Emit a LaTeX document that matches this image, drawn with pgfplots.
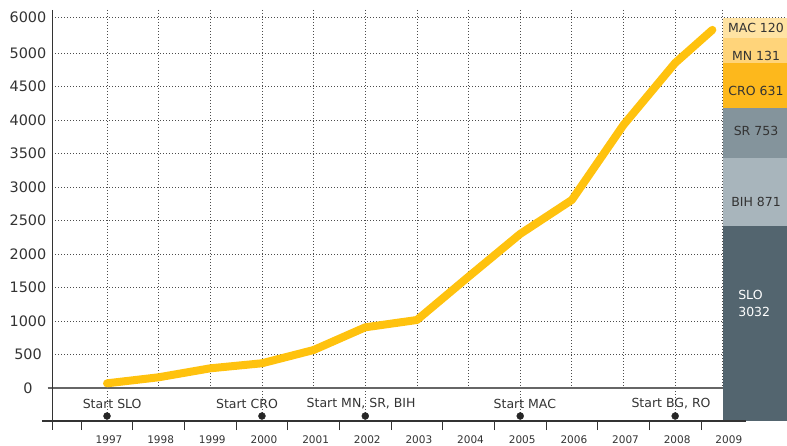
\documentclass[border=0pt]{standalone}
\usepackage{pgfplots}
\pgfplotsset{compat=1.18}
\usepackage{fontspec}
\setmainfont{DejaVu Sans}
\definecolor{gold}{HTML}{FFC20E}
\definecolor{cSLO}{HTML}{53656F}
\definecolor{cBIH}{HTML}{A8B5BC}
\definecolor{cSR}{HTML}{84949C}
\definecolor{cCRO}{HTML}{FDB81C}
\definecolor{cMN}{HTML}{FFD47A}
\definecolor{cMAC}{HTML}{FFE3A3}
\definecolor{txt}{HTML}{333333}
\tikzset{griddot/.style={draw=black!70, line width=0.8pt, dash pattern=on 0.9pt off 2.1pt}}
% x = year - 1997
\begin{document}
\begin{tikzpicture}
\begin{axis}[
  at={(0,0)}, anchor=south west,
  scale only axis, width=735pt, height=411pt,
  xmin=-1.065, xmax=13.165, ymin=-492.5, ymax=5642,
  clip=false,
  axis x line=bottom, axis y line=left,
  axis line style={draw=none},
  xtick={0,1,2,3,4,5,6,7,8,9,10,11,12},
  xticklabels={1997,1998,1999,2000,2001,2002,2003,2004,2005,2006,2007,2008,2009},
  minor xtick={-0.5,0.5,1.5,2.5,3.5,4.5,5.5,6.5,7.5,8.5,9.5,10.5,11.5},
  ytick={0,500,1000,1500,2000,2500,3000,3500,4000,4500,5000,5530},
  yticklabels={0,500,1000,1500,2000,2500,3000,3500,4000,4500,5000,6000},
  major tick length=0pt, minor tick length=9pt, tick align=outside,
  minor tick style={draw=black!80, line width=1pt},
  ymajorgrids, grid style={griddot},
  xticklabel style={font=\fontsize{10.5}{12}\selectfont, text=txt, anchor=base, yshift=-22pt, xshift=2pt},
  yticklabel style={font=\fontsize{14.4}{16}\selectfont, text=txt, anchor=center, xshift=-24pt},
]
% vertical grid lines
\pgfplotsinvokeforeach{1,2,4,6,7,9,10}{
  \draw[griddot] (axis cs:#1,5642) -- (axis cs:#1,0);
}
\draw[griddot] (axis cs:11.92,5642) -- (axis cs:11.92,0);
\pgfplotsinvokeforeach{0,3,5,8,11}{
  \draw[griddot] (axis cs:#1,5642) -- (axis cs:#1,-418);
}
% zero line
\draw[black!60, line width=1.5pt] (axis cs:-1.15,0) -- (axis cs:11.93,0);

% growth line
\addplot[gold, line width=8pt, line cap=round, line join=round] coordinates {
  (0,70) (1,160) (2,294) (3,369) (4,567) (5,906)
  (6,1015) (7,1662) (8,2300) (9,2807) (10,3927)
  (11,4852) (11.72,5345)
};

% stacked column (segments as drawn)
\addplot[draw=none, fill=cSLO] coordinates {(11.93,-492.5) (13.3,-492.5) (13.3,2418) (11.93,2418)};
\addplot[draw=none, fill=cBIH] coordinates {(11.93,2418) (13.3,2418) (13.3,3428) (11.93,3428)};
\addplot[draw=none, fill=cSR] coordinates {(11.93,3428) (13.3,3428) (13.3,4174) (11.93,4174)};
\addplot[draw=none, fill=cCRO] coordinates {(11.93,4174) (13.3,4174) (13.3,4845) (11.93,4845)};
\addplot[draw=none, fill=cMN] coordinates {(11.93,4845) (13.3,4845) (13.3,5219) (11.93,5219)};
\addplot[draw=none, fill=cMAC] coordinates {(11.93,5219) (13.3,5219) (13.3,5525) (11.93,5525)};

\begin{scope}[every node/.style={font=\fontsize{12.5}{17}\selectfont, text=txt}]
\node at (axis cs:12.565,5373) {MAC 120};
\node at (axis cs:12.565,4960) {MN 131};
\node at (axis cs:12.565,4437) {CRO 631};
\node at (axis cs:12.565,3840) {SR 753};
\node at (axis cs:12.565,2776) {BIH 871};
\node[text=white, align=left] at (axis cs:12.53,1261) {SLO\\3032};
\end{scope}

% axis lines
\draw[black!80, line width=1.2pt] (axis cs:-1.26,-492.5) -- (axis cs:12.37,-492.5);
\draw[black!80, line width=1pt] (axis cs:-1.065,5642) -- ([yshift=-9pt]axis cs:-1.065,-492.5);

% milestones
\addplot[only marks, mark=*, mark size=3.5pt, color=black!85] coordinates {
  (0,-418) (3,-418) (5,-418) (8,-418) (11,-418)
};
\begin{scope}[every node/.style={font=\fontsize{12.5}{15}\selectfont, text=txt}]
\node at (axis cs:0.1,-239) {Start SLO};
\node at (axis cs:2.71,-239) {Start CRO};
\node at (axis cs:4.92,-239) {Start MN, SR, BIH};
\node at (axis cs:8.09,-239) {Start MAC};
\node at (axis cs:10.92,-239) {Start BG, RO};
\end{scope}
\end{axis}
\pgfresetboundingbox
\path[use as bounding box] (-52pt,-24pt) rectangle (735pt,421pt);
\end{tikzpicture}
\end{document}
